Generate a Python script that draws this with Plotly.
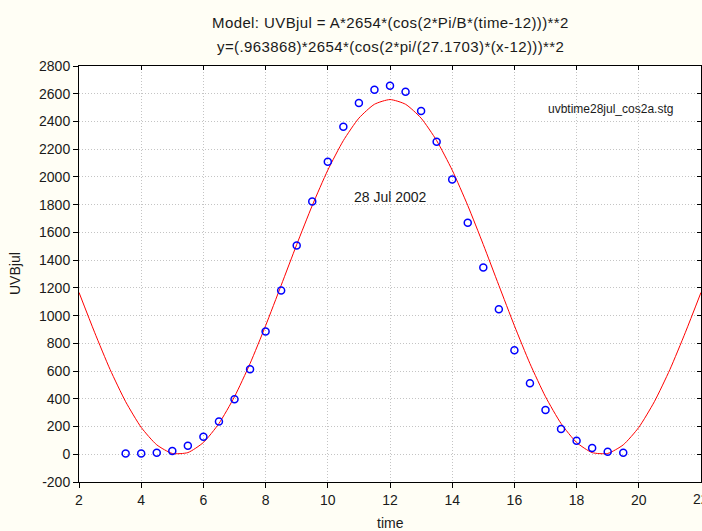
import plotly.graph_objects as go

time_obs = [3.5, 4, 4.5, 5, 5.5, 6, 6.5, 7, 7.5, 8, 8.5, 9, 9.5, 10, 10.5, 11, 11.5,
            12, 12.5, 13, 13.5, 14, 14.5, 15, 15.5, 16, 16.5, 17, 17.5, 18, 18.5, 19, 19.5]
uvb_obs = [5, 5, 11, 24, 62, 127, 236, 397, 613, 886, 1181, 1505, 1823, 2109, 2362, 2534, 2628,
           2657, 2614, 2475, 2253, 1981, 1670, 1347, 1045, 750, 512, 320, 182, 98, 46, 18, 11]

# Fitted curve at half-unit steps
time_fit = [2, 2.5, 3, 3.5, 4, 4.5, 5, 5.5, 6, 6.5, 7, 7.5, 8, 8.5, 9, 9.5, 10, 10.5, 11, 11.5,
            12, 12.5, 13, 13.5, 14, 14.5, 15, 15.5, 16, 16.5, 17, 17.5, 18, 18.5, 19, 19.5,
            20, 20.5, 21, 21.5, 22]
uvb_fit = [1167, 880, 611, 379, 194, 68, 6, 12, 85, 222, 415, 654, 927, 1218, 1512, 1794,
           2049, 2262, 2424, 2524, 2558, 2524, 2424, 2262, 2049, 1794, 1512, 1218, 927, 654,
           415, 222, 85, 12, 6, 68, 194, 379, 611, 880, 1167]

x_ticks = [2, 4, 6, 8, 10, 12, 14, 16, 18, 20, 22]
y_ticks = [-200, 0, 200, 400, 600, 800, 1000, 1200, 1400, 1600, 1800, 2000, 2200, 2400, 2600, 2800]

title1 = "Model: UVBjul = A*2654*(cos(2*Pi/B*(time-12)))**2"
title2 = "y=(.963868)*2654*(cos(2*pi/(27.1703)*(x-12)))**2"

FONT = "Liberation Sans, Arial, sans-serif"
TXT = "#1A1A1A"


def spaced(s, px):
    return '<span style="letter-spacing:%spx">%s</span>' % (px, s)


fig = go.Figure()
fig.add_trace(go.Scatter(x=time_fit, y=uvb_fit, mode="lines",
                         line=dict(color="#FF0000", width=1, shape="spline", smoothing=0.6),
                         hoverinfo="skip", showlegend=False))
fig.add_trace(go.Scatter(x=time_obs, y=uvb_obs, mode="markers",
                         marker=dict(symbol="circle-open", size=7, color="#0000FF",
                                     line=dict(width=1.5, color="#0000FF")),
                         showlegend=False))
# invisible trace for mirrored (inside) ticks on top / right
fig.add_trace(go.Scatter(x=[time_fit[0]], y=[uvb_fit[0]], xaxis="x2", yaxis="y2",
                         mode="markers", marker=dict(opacity=0), showlegend=False,
                         hoverinfo="skip"))

axis_common = dict(showline=True, linecolor="black", linewidth=1,
                   gridcolor="#C4C4C4", griddash="1px,2px", gridwidth=1,
                   zeroline=False, tickfont=dict(family=FONT, size=14, color=TXT),
                   ticks="outside", ticklen=5, tickcolor="black", automargin=False)

annotations = [
    dict(text=spaced(title1, 0.4), xref="paper", yref="paper", x=0.5, y=(482 - 21) / 417,
         xanchor="center", yanchor="middle", showarrow=False,
         font=dict(family=FONT, size=15, color=TXT)),
    dict(text=spaced(title2, 0.4), xref="paper", yref="paper", x=0.5, y=(482 - 45) / 417,
         xanchor="center", yanchor="middle", showarrow=False,
         font=dict(family=FONT, size=15, color=TXT)),
    dict(text="UVBjul", xref="paper", yref="paper", x=(15 - 79) / 622, y=0.5,
         xanchor="center", yanchor="middle", textangle=-90, showarrow=False,
         font=dict(family=FONT, size=14, color=TXT)),
    dict(text="time", xref="paper", yref="paper", x=0.5, y=(482 - 523) / 417,
         xanchor="center", yanchor="middle", showarrow=False,
         font=dict(family=FONT, size=14, color=TXT)),
    dict(text="uvbtime28jul_cos2a.stg", xref="x", yref="y", x=19.1, y=2490,
         xanchor="center", yanchor="middle", showarrow=False,
         font=dict(family=FONT, size=12, color=TXT)),
    dict(text="28 Jul 2002", xref="x", yref="y", x=12.0, y=1858,
         xanchor="center", yanchor="middle", showarrow=False,
         font=dict(family=FONT, size=14, color=TXT)),
    # last x tick label, partly cut off by the right edge as in the original
    dict(text=str(x_ticks[-1]), xref="x", yref="paper", x=x_ticks[-1], y=(482 - 499) / 417,
         xanchor="center", yanchor="middle", showarrow=False,
         font=dict(family=FONT, size=14, color=TXT)),
]

fig.update_layout(
    width=702, height=531,
    paper_bgcolor="#FFFEF5", plot_bgcolor="#FFFFFF",
    margin=dict(l=79, r=1, t=66, b=49, autoexpand=False),
    xaxis=dict(range=[2, 22], tickvals=x_ticks[:-1], ticktext=[str(v) for v in x_ticks[:-1]],
               **axis_common),
    yaxis=dict(range=[-200, 2800], tickvals=y_ticks, ticktext=[str(v) for v in y_ticks],
               **axis_common),
    xaxis2=dict(range=[2, 22], overlaying="x", side="top", tickvals=x_ticks,
                showticklabels=False, ticks="inside", ticklen=4, tickcolor="black",
                showgrid=False, zeroline=False, showline=True, linecolor="black"),
    yaxis2=dict(range=[-200, 2800], overlaying="y", side="right", tickvals=y_ticks,
                showticklabels=False, ticks="inside", ticklen=4, tickcolor="black",
                showgrid=False, zeroline=False, showline=True, linecolor="black"),
    font=dict(family=FONT, size=14, color=TXT),
    annotations=annotations,
)

fig.write_html("out.html", config={"displayModeBar": False},
               post_script="document.body.style.margin='0';document.body.style.overflow='hidden';")
